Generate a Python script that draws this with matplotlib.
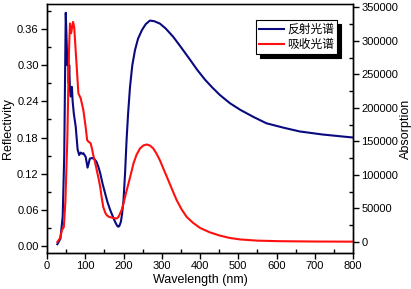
import matplotlib.pyplot as plt
from matplotlib.ticker import MultipleLocator, FormatStrFormatter

plt.rcParams['font.family'] = ['Liberation Sans', 'Noto Sans CJK SC', 'DejaVu Sans']

# reflectivity (left axis)
refl_wl = [27, 35, 41, 45, 48, 49, 51.5, 53, 55, 56.7, 58, 60, 62, 65, 67, 70, 75, 80,
           84, 88, 92, 95, 101, 106, 112, 118, 124, 129, 134, 139, 145, 152, 158, 165,
           172, 178, 183, 186, 189, 193, 196, 200, 204, 208, 212, 217, 223, 230, 238,
           248, 258, 269, 280, 295, 310, 330, 350, 374, 393, 413, 432, 452, 478, 505,
           540, 574, 620, 661, 720, 783, 800]
refl = [0.003, 0.012, 0.049, 0.15, 0.33, 0.387, 0.336, 0.30, 0.32, 0.27, 0.30, 0.26,
        0.248, 0.264, 0.24, 0.22, 0.198, 0.16, 0.151, 0.155, 0.153, 0.154, 0.148, 0.130,
        0.145, 0.146, 0.144, 0.140, 0.132, 0.121, 0.104, 0.087, 0.073, 0.060, 0.049,
        0.040, 0.034, 0.032, 0.033, 0.040, 0.052, 0.076, 0.120, 0.176, 0.220, 0.264,
        0.300, 0.325, 0.344, 0.358, 0.368, 0.374, 0.373, 0.369, 0.361, 0.347, 0.330,
        0.309, 0.292, 0.276, 0.263, 0.2505, 0.237, 0.226, 0.214, 0.2035, 0.196, 0.190,
        0.185, 0.181, 0.180]

# absorption (right axis)
abs_wl = [27, 34, 39, 44, 48, 53, 57.5, 60, 63, 68, 71, 76, 82, 88, 95, 101, 105, 109,
          114, 118, 121, 126, 130, 135, 139, 143, 147, 152, 156, 162, 169, 176, 182, 187,
          191, 196, 200, 206, 213, 220, 226, 234, 243, 252, 261, 270, 278, 286, 295,
          306, 317, 328, 339, 352, 365, 382, 400, 425, 452, 478, 505, 550, 609, 700, 800]
absorp = [0, 5700, 17600, 22500, 60000, 151800, 286000, 325800, 311300, 328200, 320700,
          276000, 221600, 214400, 196500, 171600, 151800, 149300, 147300, 138000, 129400,
          118000, 107100, 94000, 82200, 66000, 52300, 44000, 40000, 37500, 36500, 35500,
          35000, 37500, 42500, 49000, 57400, 72000, 87200, 103000, 117000, 130000,
          139400, 144000, 145400, 143500, 139400, 132000, 122000, 107000, 92100, 77000,
          62300, 48500, 37400, 28500, 21000, 14500, 9500, 6000, 3800, 2000, 1200, 700, 500]

fig = plt.figure(figsize=(4.11, 2.89), dpi=100)
ax = fig.add_axes([0.1144, 0.1246, 0.7445, 0.8616])
ax2 = ax.twinx()

l1, = ax.plot(refl_wl, refl, color='#0a0a80', lw=1.5, label='反射光谱')
l2, = ax2.plot(abs_wl, absorp, color='#ff1010', lw=1.5, label='吸收光谱')

ax.set_xlim(0, 800)
ax.set_ylim(-0.0116, 0.4015)
ax2.set_ylim(-16400, 354900)

ax.xaxis.set_major_locator(MultipleLocator(100))
ax.xaxis.set_minor_locator(MultipleLocator(50))
ax.yaxis.set_major_locator(MultipleLocator(0.06))
ax.yaxis.set_minor_locator(MultipleLocator(0.03))
ax.yaxis.set_major_formatter(FormatStrFormatter('%.2f'))
ax2.yaxis.set_major_locator(MultipleLocator(50000))
ax2.yaxis.set_minor_locator(MultipleLocator(25000))

for a in (ax, ax2):
    a.tick_params(which='major', direction='out', length=4, width=1, labelsize=8, pad=2)
    a.tick_params(which='minor', direction='in', length=3, width=1)
    for s in a.spines.values():
        s.set_linewidth(1.0)
ax.spines['top'].set_color('#777777')

ax.set_xlabel('Wavelength (nm)', fontsize=9, labelpad=2)
ax.set_ylabel('Reflectivity', fontsize=9, labelpad=2)
ax2.set_ylabel('Absorption', fontsize=9, labelpad=1)

leg = ax.legend(handles=[l1, l2], loc='upper right', bbox_to_anchor=(0.948, 0.936),
                borderaxespad=0, fancybox=False, edgecolor='black', framealpha=1,
                shadow={'color': 'black', 'alpha': 1, 'ox': 3, 'oy': -3},
                handlelength=2.1, handletextpad=0.3, borderpad=0.25,
                labelspacing=0.15, prop={'family': ['Noto Sans CJK SC'], 'size': 8.5})
leg.get_frame().set_linewidth(0.8)

fig.savefig('out.png', dpi=100)
